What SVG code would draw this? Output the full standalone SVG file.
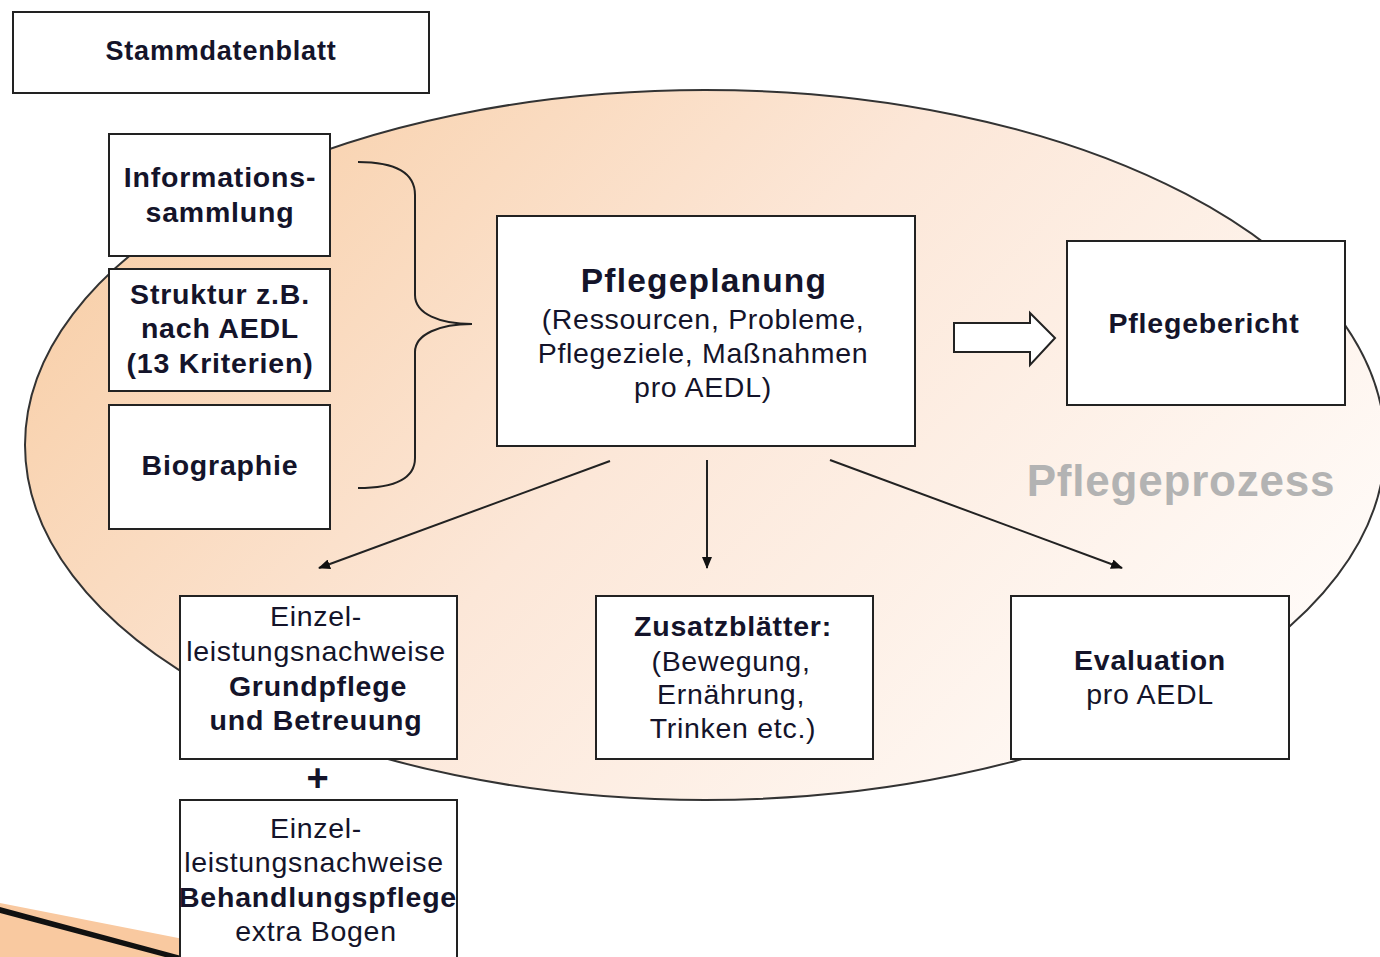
<svg xmlns="http://www.w3.org/2000/svg" width="1380" height="957" viewBox="0 0 1380 957">
<defs>
<linearGradient id="g" x1="0" y1="0.25" x2="1" y2="0.75">
<stop offset="0" stop-color="#f8cfa8"/>
<stop offset="0.45" stop-color="#fce7d8"/>
<stop offset="1" stop-color="#fffcfa"/>
</linearGradient>
<marker id="ah" viewBox="0 0 12 10" refX="11" refY="5" markerWidth="12" markerHeight="10" markerUnits="userSpaceOnUse" orient="auto">
<path d="M0,0 L12,5 L0,10 z" fill="#111"/>
</marker>
<style>
.box{fill:#fff;stroke:#222;stroke-width:2}
.t{font-family:"Liberation Sans",Arial,sans-serif;font-size:28.5px;letter-spacing:0.7px;fill:#14142a;text-anchor:middle}
.b{font-weight:bold;letter-spacing:0.8px}
.c{fill:none;stroke:#222;stroke-width:2}
</style>
</defs>
<rect width="1380" height="957" fill="#fff"/>
<ellipse cx="705" cy="445" rx="680" ry="355" fill="url(#g)" stroke="#333" stroke-width="2"/>
<g id="swoosh">
<polygon points="0,903 275,957 0,957" fill="#f9c9a0"/>
<polygon points="0,907 185,957 165,957 0,913" fill="#111"/>
</g>
<g id="stammdatenblatt"><rect class="box" x="13" y="12" width="416" height="81"/><text class="t b" x="221" y="60" style="font-size:27px">Stammdatenblatt</text></g>
<g id="informationssammlung"><rect class="box" x="109" y="134" width="221" height="122"/><text class="t b" x="220" y="187">Informations-</text><text class="t b" x="220" y="222">sammlung</text></g>
<g id="struktur"><rect class="box" x="109" y="269" width="221" height="122"/><text class="t b" x="220" y="304">Struktur z.B.</text><text class="t b" x="220" y="338">nach AEDL</text><text class="t b" x="220" y="373">(13 Kriterien)</text></g>
<g id="biographie"><rect class="box" x="109" y="405" width="221" height="124"/><text class="t b" x="220" y="475">Biographie</text></g>
<g id="brace"><path class="c" d="M358,162 C395,162 415,172 415,195 L415,295 C415,314 440,324 472,324 C440,324 415,334 415,352 L415,458 C415,478 395,488 358,488"/></g>
<g id="pflegeplanung"><rect class="box" x="497" y="216" width="418" height="230"/><text class="t b" x="704" y="292" style="font-size:33.5px;letter-spacing:1.2px">Pflegeplanung</text><text class="t" x="703" y="329">(Ressourcen, Probleme,</text><text class="t" x="703" y="363">Pflegeziele, Maßnahmen</text><text class="t" x="703" y="397">pro AEDL)</text></g>
<g id="blockarrow"><polygon points="954,323 1030,323 1030,313 1055,338 1030,365 1030,352 954,352" fill="#fff" stroke="#222" stroke-width="2"/></g>
<g id="pflegebericht"><rect class="box" x="1067" y="241" width="278" height="164"/><text class="t b" x="1204" y="333">Pflegebericht</text></g>
<g id="pflegeprozess"><text x="1181" y="496" font-family="Liberation Sans,Arial,sans-serif" font-size="44" font-weight="bold" letter-spacing="0.8" fill="#b3b3b3" text-anchor="middle">Pflegeprozess</text></g>
<g id="connectors">
<line class="c" x1="610" y1="461" x2="319" y2="568" marker-end="url(#ah)"/>
<line class="c" x1="707" y1="460" x2="707" y2="568" marker-end="url(#ah)"/>
<line class="c" x1="830" y1="460" x2="1122" y2="568" marker-end="url(#ah)"/>
</g>
<g id="einzel1"><rect class="box" x="180" y="596" width="277" height="163"/><text class="t" x="316" y="626">Einzel-</text><text class="t" x="316" y="661">leistungsnachweise</text><text class="t b" x="318" y="696">Grundpflege</text><text class="t b" x="316" y="730">und Betreuung</text></g>
<g id="zusatz"><rect class="box" x="596" y="596" width="277" height="163"/><text class="t b" x="733" y="636">Zusatzblätter:</text><text class="t" x="731" y="671">(Bewegung,</text><text class="t" x="731" y="704">Ernährung,</text><text class="t" x="733" y="738">Trinken etc.)</text></g>
<g id="evaluation"><rect class="box" x="1011" y="596" width="278" height="163"/><text class="t b" x="1150" y="670">Evaluation</text><text class="t" x="1150" y="704">pro AEDL</text></g>
<g id="plus"><text class="t b" x="318" y="791" style="font-size:38px">+</text></g>
<g id="einzel2"><rect class="box" x="180" y="800" width="277" height="170"/><text class="t" x="316" y="838">Einzel-</text><text class="t" x="314" y="872">leistungsnachweise</text><text class="t b" x="318" y="907">Behandlungspflege</text><text class="t" x="316" y="941">extra Bogen</text></g>
</svg>
